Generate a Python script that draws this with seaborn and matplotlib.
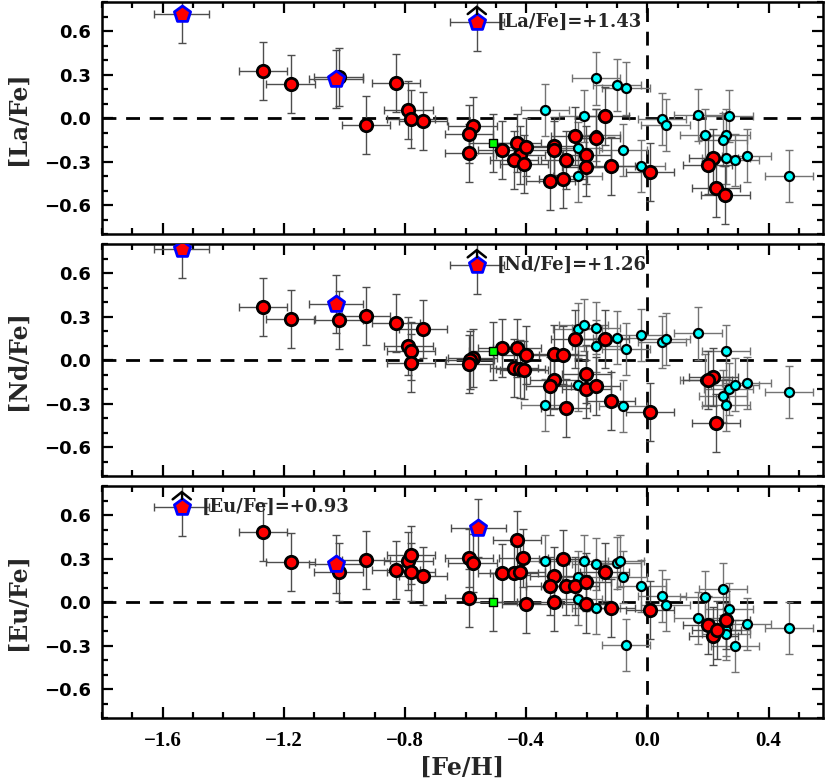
import numpy as np
import pandas as pd
import matplotlib
matplotlib.use("Agg")
import matplotlib.pyplot as plt
import seaborn as sns
from matplotlib.ticker import MultipleLocator, FuncFormatter

# ---------------- data ----------------
# [La/Fe]
la_red_feh = [-1.268, -1.178, -1.019, -0.830, -0.929, -0.789, -0.780, -0.740,
              -0.577, -0.588, -0.588, -0.479, -0.430, -0.419, -0.440, -0.408, -0.399,
              -0.320, -0.309, -0.309, -0.279, -0.270, -0.239, -0.201, -0.201, -0.171,
              -0.141, -0.120, 0.009, 0.218, 0.199, 0.227, 0.258]
la_red_val = [0.326, 0.234, 0.285, 0.245, -0.049, 0.053, -0.005, -0.019,
              -0.056, -0.109, -0.241, -0.220, -0.169, -0.257, -0.289, -0.319, -0.199,
              -0.433, -0.192, -0.220, -0.421, -0.289, -0.127, -0.257, -0.338, -0.139,
              0.012, -0.331, -0.370, -0.278, -0.326, -0.481, -0.532]
la_cyan_feh = [-0.338, -0.210, -0.170, -0.170, -0.230, -0.230, -0.100, -0.070, -0.080,
               -0.021, 0.049, 0.060, 0.168, 0.269, 0.189, 0.259, 0.249, 0.259, 0.289,
               0.328, 0.468]
la_cyan_val = [0.053, 0.014, 0.273, -0.118, -0.208, -0.400, 0.227, 0.204, -0.218,
               -0.329, -0.007, -0.046, 0.023, 0.014, -0.118, -0.116, -0.148, -0.278,
               -0.289, -0.259, -0.400]
la_pent_feh = [-1.537, -1.028]
la_pent_val = [0.715, 0.271]
la_limit_feh, la_limit_val, la_limit_txt = -0.563, 0.662, "[La/Fe]=+1.43"
la_green_feh, la_green_val = [-0.510], [-0.171]

# [Nd/Fe]
nd_red_feh = [-1.268, -1.178, -1.019, -0.929, -0.830, -0.740, -0.789, -0.780, -0.780,
              -0.577, -0.585, -0.588, -0.479, -0.430, -0.399, -0.440, -0.419, -0.408,
              -0.309, -0.279, -0.309, -0.320, -0.270, -0.239, -0.141, -0.201, -0.201,
              -0.171, -0.120, 0.009, 0.218, 0.199, 0.227]
nd_red_val = [0.365, 0.285, 0.273, 0.305, 0.254, 0.213, 0.094, 0.062, -0.019,
              0.016, -0.003, -0.024, 0.083, 0.083, 0.035, -0.058, -0.060, -0.067,
              0.042, 0.032, -0.139, -0.181, -0.331, 0.143, 0.143, -0.097, -0.199,
              -0.178, -0.280, -0.361, -0.118, -0.139, -0.431]
nd_cyan_feh = [-0.230, -0.210, -0.170, -0.170, -0.100, -0.070, -0.020, 0.049, 0.060,
               0.168, 0.259, -0.338, -0.230, -0.080, 0.189, 0.249, 0.259, 0.268,
               0.289, 0.328, 0.468]
nd_cyan_val = [0.213, 0.243, 0.222, 0.094, 0.155, 0.074, 0.174, 0.125, 0.146,
               0.183, 0.062, -0.308, -0.169, -0.319, -0.139, -0.250, -0.308, -0.199,
               -0.169, -0.160, -0.220]
nd_pent_feh = [-1.537, -1.028]
nd_pent_val = [0.768, 0.389]
nd_limit_feh, nd_limit_val, nd_limit_txt = -0.563, 0.653, "[Nd/Fe]=+1.26"
nd_green_feh, nd_green_val = [-0.510], [0.065]

# [Eu/Fe]
eu_red_feh = [-1.268, -1.178, -1.019, -0.929, -0.830, -0.789, -0.780, -0.780, -0.740,
              -0.588, -0.577, -0.588, -0.479, -0.440, -0.419, -0.430, -0.409, -0.399,
              -0.309, -0.320, -0.309, -0.279, -0.270, -0.239, -0.201, -0.201, -0.141,
              -0.120, 0.009, 0.199, 0.218, 0.229, 0.259]
eu_red_val = [0.483, 0.273, 0.210, 0.292, 0.222, 0.282, 0.324, 0.210, 0.181,
              0.303, 0.271, 0.030, 0.201, 0.201, 0.210, 0.426, 0.301, -0.012,
              0.181, 0.111, 0.000, 0.294, 0.111, 0.111, 0.141, -0.012, 0.210,
              -0.042, -0.053, -0.160, -0.232, -0.192, -0.121]
eu_cyan_feh = [-0.338, -0.210, -0.170, -0.100, -0.090, -0.080, -0.230, -0.230, -0.170,
               -0.070, -0.020, 0.049, 0.060, 0.168, 0.189, 0.249, 0.269, 0.259, 0.259,
               0.289, 0.328, 0.468]
eu_cyan_val = [0.285, 0.282, 0.261, 0.271, 0.282, 0.171, 0.171, 0.021, -0.040,
               -0.294, 0.108, 0.039, -0.021, -0.109, 0.032, 0.090, -0.051, -0.190,
               -0.222, -0.301, -0.151, -0.181]
eu_pent_feh = [-1.028, -0.558]
eu_pent_val = [0.264, 0.507]
eu_limit_feh, eu_limit_val, eu_limit_txt = -1.537, 0.653, "[Eu/Fe]=+0.93"
eu_green_feh, eu_green_val = [-0.510], [0.000]

ylabels = ["[La/Fe]", "[Nd/Fe]", "[Eu/Fe]"]
xlabel = "[Fe/H]"

feh_err = 0.08      # typical [Fe/H] uncertainty
red_err = 0.20      # typical [X/Fe] uncertainty, programme stars
cyan_err = 0.18     # typical [X/Fe] uncertainty, comparison stars

panels = [
    (la_red_feh, la_red_val, la_cyan_feh, la_cyan_val, la_pent_feh, la_pent_val,
     la_limit_feh, la_limit_val, la_limit_txt, la_green_feh, la_green_val),
    (nd_red_feh, nd_red_val, nd_cyan_feh, nd_cyan_val, nd_pent_feh, nd_pent_val,
     nd_limit_feh, nd_limit_val, nd_limit_txt, nd_green_feh, nd_green_val),
    (eu_red_feh, eu_red_val, eu_cyan_feh, eu_cyan_val, eu_pent_feh, eu_pent_val,
     eu_limit_feh, eu_limit_val, eu_limit_txt, eu_green_feh, eu_green_val),
]

# ---------------- style ----------------
sns.set_theme(style="ticks")
plt.rcParams["font.family"] = ["DejaVu Serif"]
plt.rcParams["axes.unicode_minus"] = True

fig, axes = plt.subplots(3, 1, figsize=(8.3, 7.83), dpi=100, sharex=True)
fig.subplots_adjust(left=0.123, right=0.9916, top=0.9974, bottom=0.083, hspace=0.043)

def fmt(v, pos):
    if abs(v) < 1e-9:
        v = 0.0
    return f"{v:.1f}".replace("-", "\u2212")

for ax, ylab, p in zip(axes, ylabels, panels):
    (rx, ry, cx, cy, px, py, lx, ly, ltxt, gx, gy) = p

    # error bars
    ax.errorbar(cx, cy, xerr=feh_err, yerr=cyan_err, fmt="none", ecolor="0.45",
                elinewidth=1.0, capsize=3, capthick=1.0, zorder=2)
    ax.errorbar(rx, ry, xerr=feh_err, yerr=red_err, fmt="none", ecolor="0.3",
                elinewidth=1.0, capsize=3, capthick=1.0, zorder=2)
    ax.errorbar(px + [lx], py + [ly], xerr=feh_err + 0.01, yerr=red_err, fmt="none",
                ecolor="0.3", elinewidth=1.0, capsize=3, capthick=1.0, zorder=2)
    ax.errorbar(gx, gy, xerr=feh_err, yerr=red_err, fmt="none", ecolor="0.3",
                elinewidth=1.0, capsize=3, capthick=1.0, zorder=2)

    # reference lines
    ax.axhline(0, color="black", lw=2.0, ls=(0, (5, 3.5)), zorder=1)
    ax.axvline(0, color="black", lw=2.0, ls=(0, (5, 3.5)), zorder=1)

    # markers
    sns.scatterplot(x=cx, y=cy, ax=ax, color="#00ffff", edgecolor="black",
                    linewidth=1.6, s=42, zorder=4, legend=False)
    sns.scatterplot(x=rx, y=ry, ax=ax, color="#ff0000", edgecolor="black",
                    linewidth=2.0, s=80, zorder=5, legend=False)
    sns.scatterplot(x=gx, y=gy, ax=ax, color="#00ff00", edgecolor="black",
                    linewidth=1.0, marker="s", s=36, zorder=5, legend=False)
    sns.scatterplot(x=px + [lx], y=py + [ly], ax=ax, color="#ff0000",
                    edgecolor="#0000ff", linewidth=2.0, marker="p", s=150,
                    zorder=6, legend=False)

    # lower-limit chevron above the off-scale star
    tip = ly + 0.105
    ax.plot([lx, lx], [ly + 0.05, tip], color="black", lw=1.6, zorder=7,
            solid_capstyle="butt")
    ax.plot([lx - 0.03, lx, lx + 0.03], [tip - 0.05, tip, tip - 0.05],
            color="black", lw=1.8, zorder=7, solid_joinstyle="miter")
    ax.text(lx + 0.065, ly, ltxt, fontsize=13, fontweight="bold",
            va="center", ha="left", zorder=7)

    ax.set_xlim(-1.8, 0.58)
    ax.set_ylim(-0.8, 0.8)
    ax.xaxis.set_major_locator(MultipleLocator(0.4))
    ax.xaxis.set_minor_locator(MultipleLocator(0.1))
    ax.yaxis.set_major_locator(MultipleLocator(0.3))
    ax.yaxis.set_minor_locator(MultipleLocator(0.1))
    ax.xaxis.set_major_formatter(FuncFormatter(fmt))
    ax.yaxis.set_major_formatter(FuncFormatter(fmt))
    ax.tick_params(which="both", direction="in", top=True, right=True,
                   width=1.6, colors="black")
    ax.tick_params(which="major", length=8)
    ax.tick_params(which="minor", length=4.5)
    ax.tick_params(axis="x", which="major", pad=9)
    ax.tick_params(axis="y", which="major", pad=8)
    for lab in ax.get_yticklabels():
        lab.set_fontfamily("DejaVu Sans")
        lab.set_fontweight("bold")
        lab.set_fontsize(13)
    for lab in ax.get_xticklabels():
        lab.set_fontfamily("Liberation Serif")
        lab.set_fontweight("bold")
        lab.set_fontsize(15)
    for sp in ax.spines.values():
        sp.set_linewidth(1.8)
        sp.set_color("black")
    ax.set_ylabel(ylab, fontsize=17, fontweight="bold", labelpad=10)
    ax.set_xlabel("")

axes[-1].set_xlabel(xlabel, fontsize=17, fontweight="bold", labelpad=4)
for ax in axes[:-1]:
    ax.tick_params(labelbottom=False)

fig.savefig("out.png", dpi=100)
